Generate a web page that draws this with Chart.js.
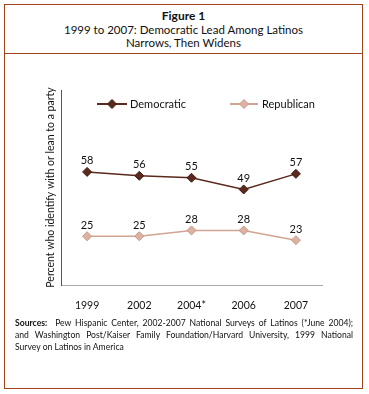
<!DOCTYPE html>
<html><head><meta charset="utf-8">
<script src="https://cdn.jsdelivr.net/npm/chart.js@4"></script>
<style>
html,body{margin:0;padding:0;background:#fff;}
body{width:369px;height:394px;position:relative;overflow:hidden;font-family:Lato,"Open Sans",sans-serif;color:#111;}
#frame{position:absolute;left:4px;top:4px;width:357px;height:383px;border:1px solid #a3431d;box-sizing:content-box;}
#sep{position:absolute;left:4px;top:53px;width:359px;height:1px;background:#a3431d;}
#title{position:absolute;left:4px;top:9px;width:359px;text-align:center;font-size:11.5px;line-height:13.5px;}
#title b{font-size:12px;}
#src{position:absolute;left:15px;top:317px;width:338px;font-size:8.6px;line-height:12px;}
#src .j{text-align:justify;text-align-last:justify;white-space:nowrap;}
#c{position:absolute;left:0;top:0;}
</style></head>
<body>
<div id="frame"></div>
<div id="sep"></div>
<div id="title"><b>Figure 1</b><br>1999 to 2007: Democratic Lead Among Latinos<br>Narrows, Then Widens</div>
<canvas id="c" width="369" height="394"></canvas>
<div id="src">
<div class="j"><b>Sources:</b>&nbsp; Pew Hispanic Center, 2002-2007 National Surveys of Latinos (*June 2004);</div>
<div class="j">and Washington Post/Kaiser Family Foundation/Harvard University, 1999 National</div>
<div>Survey on Latinos in America</div>
</div>
<script>
const categories = ["1999", "2002", "2004*", "2006", "2007"];
const democratic = [58, 56, 55, 49, 57];
const republican = [25, 25, 28, 28, 23];
const seriesNames = ["Democratic", "Republican"];
const yTitle = "Percent who identify with or lean to a party";

const demColor = "#5b291d";
const repColor = "#d2a492";

const valueLabels = {
  id: "valueLabels",
  afterDatasetsDraw(chart) {
    const ctx = chart.ctx;
    ctx.save();
    ctx.font = "11px Lato, sans-serif";
    ctx.fillStyle = "#111";
    ctx.textAlign = "center";
    ctx.textBaseline = "middle";
    chart.data.datasets.forEach((ds, i) => {
      const meta = chart.getDatasetMeta(i);
      meta.data.forEach((pt, j) => {
        ctx.fillText(String(ds.data[j]), pt.x, pt.y - 11);
      });
    });
    ctx.restore();
  }
};

const customLegend = {
  id: "customLegend",
  afterDraw(chart) {
    const ctx = chart.ctx;
    const items = [
      {x0: 97, x1: 127, tx: 130, ds: chart.data.datasets[0]},
      {x0: 230, x1: 258, tx: 262, ds: chart.data.datasets[1]}
    ];
    const y = 104;
    ctx.save();
    items.forEach(it => {
      ctx.strokeStyle = it.ds.borderColor;
      ctx.lineWidth = 2;
      ctx.beginPath(); ctx.moveTo(it.x0, y); ctx.lineTo(it.x1, y); ctx.stroke();
      const cx = (it.x0 + it.x1) / 2, r = 4.5;
      ctx.beginPath();
      ctx.moveTo(cx, y - r); ctx.lineTo(cx + r, y); ctx.lineTo(cx, y + r); ctx.lineTo(cx - r, y); ctx.closePath();
      ctx.fillStyle = it.ds.pointBackgroundColor; ctx.fill();
      ctx.lineWidth = 1; ctx.strokeStyle = it.ds.pointBorderColor; ctx.stroke();
      ctx.fillStyle = "#111";
      ctx.font = "11px Lato, sans-serif";
      ctx.textAlign = "left"; ctx.textBaseline = "middle";
      ctx.fillText(it.ds.label, it.tx, y + 0.5);
    });
    ctx.restore();
  }
};

new Chart(document.getElementById("c"), {
  type: "line",
  data: {
    labels: categories,
    datasets: [
      {label: seriesNames[0], data: democratic, borderColor: demColor, backgroundColor: demColor,
       pointBackgroundColor: demColor, pointBorderColor: "#3e1a12", borderWidth: 1.5,
       pointStyle: "rectRot", pointRadius: 4.5, pointBorderWidth: 1, tension: 0},
      {label: seriesNames[1], data: republican, borderColor: repColor, backgroundColor: repColor,
       pointBackgroundColor: "#dcb3a3", pointBorderColor: "#c5988a", borderWidth: 1.5,
       pointStyle: "rectRot", pointRadius: 4.5, pointBorderWidth: 1, tension: 0}
    ]
  },
  options: {
    responsive: false,
    animation: false,
    layout: {padding: {left: 44, right: 47, top: 90, bottom: 79}},
    plugins: {legend: {display: false}, tooltip: {enabled: false}, title: {display: false}},
    scales: {
      x: {
        offset: true,
        grid: {display: false},
        border: {display: true, color: "#aaaaaa", width: 1},
        ticks: {color: "#111", font: {family: "Lato", size: 10.5}, padding: 6, maxRotation: 0},
        afterFit(s) { s.height = 30; }
      },
      y: {
        min: 0, max: 100,
        grid: {display: false},
        border: {display: true, color: "#555555", width: 1},
        ticks: {display: false},
        title: {display: true, text: yTitle, color: "#111", font: {family: "Lato", size: 10.5}, padding: {top: 0, bottom: 0}},
        afterFit(s) { s.width = 17; }
      }
    }
  },
  plugins: [valueLabels, customLegend]
});
</script>
</body></html>
